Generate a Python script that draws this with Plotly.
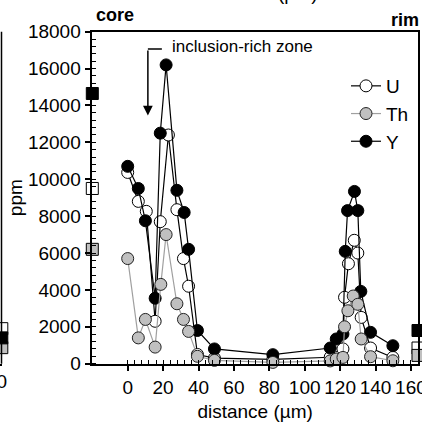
import plotly.graph_objects as go

W = H = 422

# --- traverse data (distance in µm, concentrations in ppm) ---
u_dist = [0, 6, 10.5, 15.5, 18.4, 23, 27.8, 31.5, 34.4, 39.4, 49, 82, 114.4,
          118.7, 121.6, 122.5, 124.7, 128, 130, 131.9, 137.2, 149.8]
u_ppm = [10370, 8800, 8260, 2300, 7700, 12400, 8350, 5700, 4200, 500, 300, 230,
         350, 340, 800, 3600, 5420, 6690, 6000, 2510, 850, 340]

th_dist = [0, 6, 10, 15.5, 18.7, 21.7, 27.8, 31.5, 34.4, 39.4, 49, 82, 114.4,
           117.8, 121.6, 122.5, 124.4, 127.4, 130, 131.9, 137.2, 149.8]
th_ppm = [5700, 1400, 2400, 900, 4300, 7000, 3250, 2400, 1750, 400, 180, 70,
          150, 250, 340, 2000, 2870, 3670, 3220, 1340, 380, 160]

y_dist = [0, 6, 10, 15.5, 18.4, 21.7, 27.8, 31.9, 34.4, 39.4, 49, 82, 114.4,
          117.8, 121.6, 122.9, 124.2, 128.1, 130, 131.7, 137.2, 149.8]
y_ppm = [10700, 9500, 7750, 3550, 12500, 16200, 9400, 8200, 6200, 1800, 800,
         490, 850, 1340, 1610, 6090, 8300, 9340, 8300, 3920, 1700, 975]

# bulk values plotted on the core (left) and rim (right) edges
elements = ["U", "Th", "Y"]
core_bulk = [9500, 6200, 14650]
rim_bulk = [850, 450, 1800]
# neighbouring panel (only its right edge is in view)
side_bulk = [1900, 870, 1400]

x_range = [-20, 164]
y_range = [0, 18000]
x_major = list(range(0, 161, 20))
x_minor = list(range(0, 161, 4))
y_major = list(range(0, 18001, 2000))
y_minor = list(range(0, 18001, 400))

FONT = "Liberation Sans, Arial, sans-serif"
fill = {"U": "white", "Th": "#c0c0c0", "Y": "black"}
linec = {"U": "black", "Th": "#a0a0a0", "Y": "black"}
series = {"U": (u_dist, u_ppm), "Th": (th_dist, th_ppm), "Y": (y_dist, y_ppm)}
rank = {"U": 1, "Th": 2, "Y": 3}

fig = go.Figure()

for el in ["U", "Y", "Th"]:
    xs, ys = series[el]
    fig.add_trace(go.Scatter(
        x=xs, y=ys, name=el, mode="lines+markers", legendrank=rank[el],
        legendgroup=el,
        line=dict(color=linec[el], width=1.2),
        marker=dict(size=12, color=fill[el], line=dict(color="#222" if el == "Th" else "black", width=1)),
        cliponaxis=False,
    ))

for edge_x, vals in [(x_range[0], core_bulk), (x_range[1], rim_bulk)]:
    for el, v in zip(elements, vals):
        fig.add_trace(go.Scatter(
            x=[edge_x], y=[v], mode="markers", showlegend=False,
            marker=dict(symbol="square", size=12, color=fill[el], line=dict(color="black", width=1)),
            cliponaxis=False,
        ))

for el, v in zip(elements, side_bulk):
    fig.add_trace(go.Scatter(
        x=[1], y=[v], xaxis="x2", yaxis="y", mode="markers", showlegend=False,
        marker=dict(symbol="square", size=12, color=fill[el], line=dict(color="black", width=1)),
        cliponaxis=False,
    ))

axis_common = dict(
    showline=True, linecolor="black", linewidth=1.5, mirror=True,
    showgrid=False, zeroline=False, automargin=False,
    ticks="outside", ticklen=6, tickwidth=1.5, tickcolor="black",
    ticklabeloverflow="allow",
    tickfont=dict(family=FONT, size=19, color="black"),
)

def px(x):
    return x / W

def py(y):
    return 1 - y / H

fig.update_layout(
    width=W, height=H,
    margin=dict(l=0, r=0, t=0, b=0),
    paper_bgcolor="white", plot_bgcolor="white",
    font=dict(family=FONT, size=19, color="black"),
    xaxis=dict(
        domain=[px(92.3), px(418)], range=x_range,
        tickmode="array", tickvals=x_major,
        minor=dict(tickmode="array", tickvals=x_minor, ticks="inside", ticklen=4, tickwidth=1, tickcolor="black"),
        title=dict(text="distance (µm)", font=dict(size=19), standoff=8),
        **axis_common,
    ),
    yaxis=dict(
        domain=[py(363.7), py(31.7)], range=y_range,
        tickmode="array", tickvals=y_major, tickformat="d",
        minor=dict(tickmode="array", tickvals=y_minor, ticks="inside", ticklen=4, tickwidth=1, tickcolor="black"),
        title=dict(text="ppm", font=dict(size=19), standoff=0),
        **axis_common,
    ),
    xaxis2=dict(
        domain=[0, px(1.8)], range=[0, 1], anchor="y",
        showline=True, linecolor="black", linewidth=1.5,
        showgrid=False, zeroline=False, automargin=False,
        tickmode="array", tickvals=[1], ticktext=["0"], ticks="",
        ticklabeloverflow="allow",
        tickfont=dict(family=FONT, size=19, color="black"),
    ),
    legend=dict(
        x=px(346), y=py(67), xanchor="left", yanchor="top",
        font=dict(family=FONT, size=19), bgcolor="rgba(0,0,0,0)",
        traceorder="grouped", tracegroupgap=0,
    ),
    showlegend=True,
)

# right edge of the neighbouring panel
fig.add_shape(type="line", xref="paper", yref="y domain",
              x0=px(1.5), x1=px(1.5), y0=0, y1=1,
              line=dict(color="black", width=1.5))

# labels
fig.add_annotation(text="<b>core</b>", xref="paper", yref="paper",
                   x=px(115), y=py(15), xanchor="center", yanchor="middle",
                   showarrow=False, font=dict(size=18))
fig.add_annotation(text="<b>rim</b>", xref="paper", yref="paper",
                   x=px(404.5), y=py(20), xanchor="center", yanchor="middle",
                   showarrow=False, font=dict(size=18))
fig.add_annotation(text="distance (µm)", xref="paper", yref="paper",
                   x=px(259.5), y=py(-6.3), xanchor="center", yanchor="middle",
                   showarrow=False, font=dict(size=19))

# inclusion-rich zone marker
zone_x, zone_top, zone_tip = 11.4, 17060, 13450
fig.add_shape(type="line", xref="x", yref="y", x0=zone_x, x1=19.3, y0=zone_top, y1=zone_top,
              line=dict(color="black", width=1.5))
fig.add_annotation(x=zone_x, y=zone_tip, ax=zone_x, ay=zone_top, axref="x", ayref="y",
                   xref="x", yref="y", text="", showarrow=True,
                   arrowhead=2, arrowsize=1.3, arrowwidth=1.5, arrowcolor="black")
fig.add_annotation(text="inclusion-rich zone", xref="x", yref="y", x=24, y=17190,
                   xanchor="left", showarrow=False, font=dict(size=17))

fig.write_html("out.html")
